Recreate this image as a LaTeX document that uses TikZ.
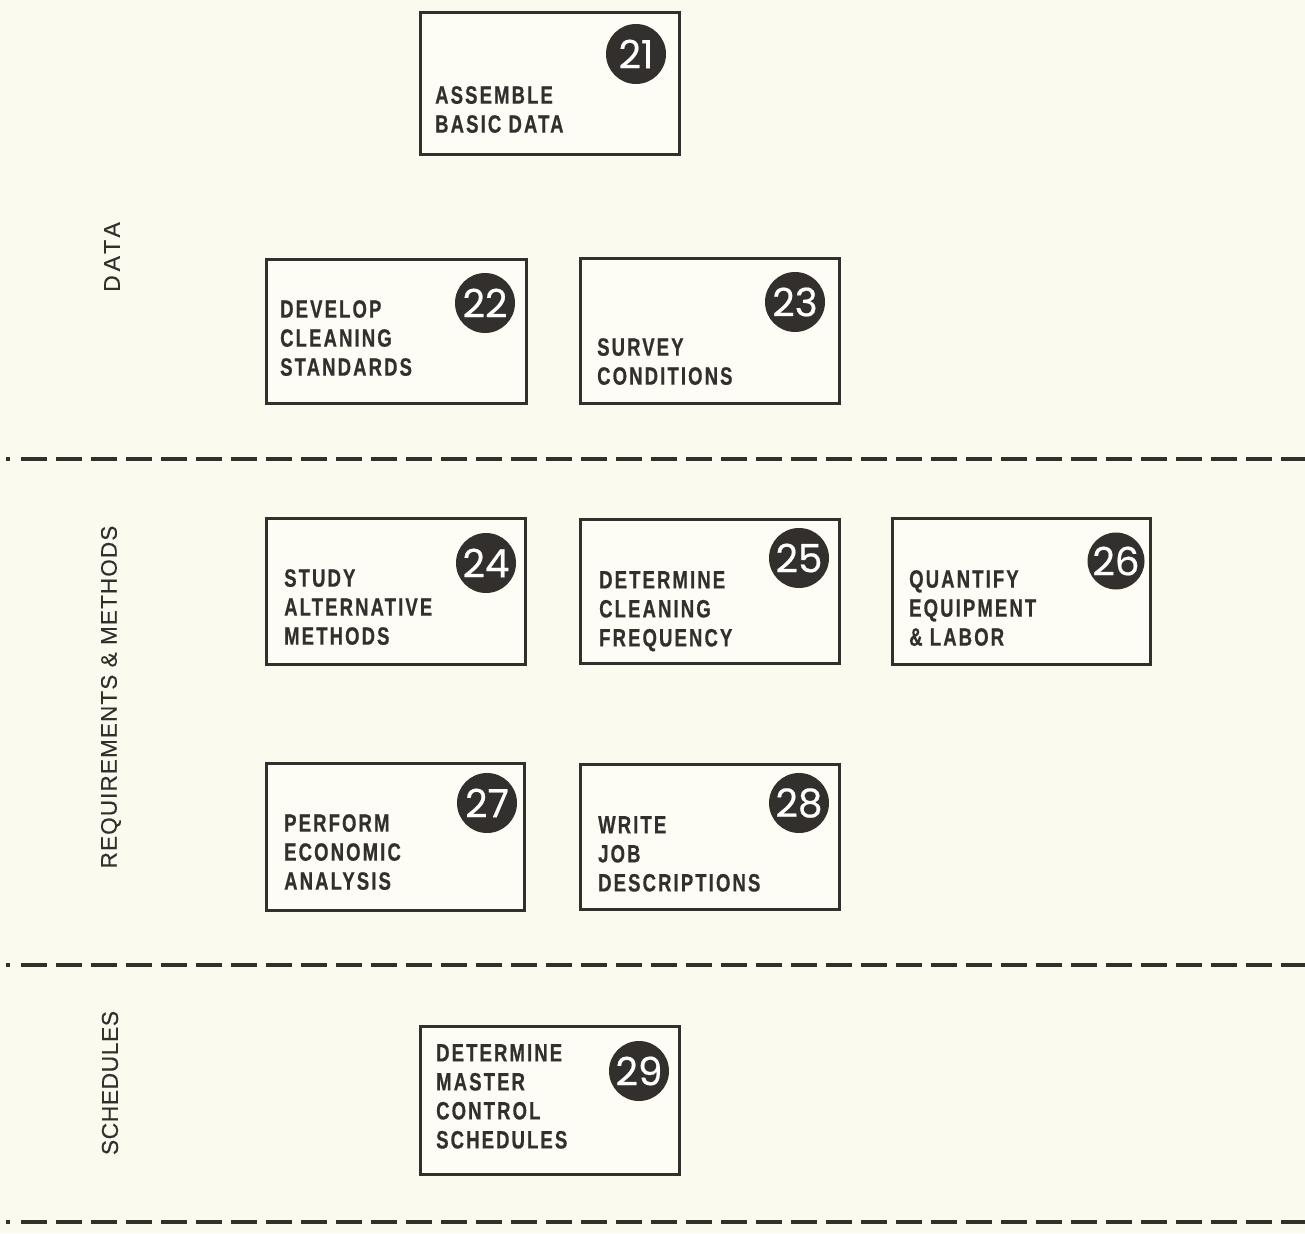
\documentclass[tikz,border=0pt]{standalone}
\usepackage{fontspec}
\setmainfont{Liberation Sans}
\newfontfamily\boxfont{Liberation Sans}[FakeStretch=0.74,LetterSpace=8.5,FakeBold=0.6]
\newfontfamily\sidefont{Liberation Sans}[FakeBold=0.3]
\newfontfamily\numfont{Poppins}[FakeBold=0.5]
\definecolor{ink}{HTML}{332F2D}
\definecolor{paper}{HTML}{FBFAEE}
\definecolor{card}{HTML}{FDFDF6}
\begin{document}
\begin{tikzpicture}[x=1pt,y=-1pt,
  stepbox/.style={draw=ink, line width=3.4pt, fill=card, inner sep=0pt, anchor=north west},
  badge/.style={circle, fill=ink, text=white, inner sep=0pt, minimum size=60pt,
    font=\numfont\fontsize{39}{39}\selectfont},
  tasktext/.style={anchor=north west, align=left, inner sep=0pt, text=ink,
    font=\boxfont\bfseries\fontsize{25}{29}\selectfont},
  side/.style={rotate=90, text=ink, inner sep=0pt},
  divider/.style={draw=ink, line width=4pt, dash pattern=on 26pt off 9pt}]
\fill[paper] (0,0) rectangle (1305,1233);
\useasboundingbox (0,0) rectangle (1305,1233);

% section dividers
\coordinate (d1a) at (21,458.5);  \coordinate (d1b) at (1305,458.5);
\coordinate (d2a) at (21,965);    \coordinate (d2b) at (1305,965);
\coordinate (d3a) at (21,1222);   \coordinate (d3b) at (1305,1222);
\coordinate (p1a) at (6,458.5);   \coordinate (p1b) at (10,458.5);
\coordinate (p2a) at (6,965);     \coordinate (p2b) at (10,965);
\coordinate (p3a) at (6,1222);    \coordinate (p3b) at (10,1222);
\foreach \i in {1,2,3}{
  \draw[divider] (d\i a) -- (d\i b);
  \draw[draw=ink, line width=4pt] (p\i a) -- (p\i b);
}

% section labels
\node[side, font=\sidefont\addfontfeature{LetterSpace=17}\fontsize{23}{24}\selectfont] (sData) at (112,257) {DATA};
\node[side, font=\sidefont\addfontfeature{LetterSpace=5}\fontsize{22.5}{23}\selectfont] (sReq) at (111,697) {REQUIREMENTS \& METHODS};
\node[side, font=\sidefont\addfontfeature{LetterSpace=2}\fontsize{23}{24}\selectfont] (sSched) at (110,1083) {SCHEDULES};

% task boxes
\node[stepbox, minimum width=259pt, minimum height=142pt] (b21) at (419,11) {};
\node[stepbox, minimum width=260pt, minimum height=144pt] (b22) at (265,258) {};
\node[stepbox, minimum width=259pt, minimum height=145pt] (b23) at (579,257) {};
\node[stepbox, minimum width=259pt, minimum height=146pt] (b24) at (265,517) {};
\node[stepbox, minimum width=259pt, minimum height=144pt] (b25) at (579,518) {};
\node[stepbox, minimum width=258pt, minimum height=146pt] (b26) at (891,517) {};
\node[stepbox, minimum width=258pt, minimum height=147pt] (b27) at (265,762) {};
\node[stepbox, minimum width=259pt, minimum height=145pt] (b28) at (579,763) {};
\node[stepbox, minimum width=259pt, minimum height=148pt] (b29) at (419,1025) {};

% task numbers
\node[badge] (n21) at (636,54) {21};
\node[badge] (n22) at (485,303) {22};
\node[badge] (n23) at (795,302) {23};
\node[badge] (n24) at (486,563) {24};
\node[badge] (n25) at (799,558) {25};
\node[badge, minimum size=57pt] (n26) at (1116,561) {26};
\node[badge] (n27) at (487,803) {27};
\node[badge] (n28) at (799,803) {28};
\node[badge] (n29) at (639,1071) {29};

% task titles
\node[tasktext] (t21) at (435,86) {ASSEMBLE\\BASIC DATA};
\node[tasktext] (t22) at (280,300) {DEVELOP\\CLEANING\\STANDARDS};
\node[tasktext] (t23) at (597,338) {SURVEY\\CONDITIONS};
\node[tasktext] (t24) at (284,569) {STUDY\\ALTERNATIVE\\METHODS};
\node[tasktext] (t25) at (599,571) {DETERMINE\\CLEANING\\FREQUENCY};
\node[tasktext] (t26) at (909,570) {QUANTIFY\\EQUIPMENT\\\& LABOR};
\node[tasktext] (t27) at (284,814) {PERFORM\\ECONOMIC\\ANALYSIS};
\node[tasktext] (t28) at (598,816) {WRITE\\JOB\\DESCRIPTIONS};
\node[tasktext] (t29) at (436,1044) {DETERMINE\\MASTER\\CONTROL\\SCHEDULES};
\end{tikzpicture}
\end{document}
